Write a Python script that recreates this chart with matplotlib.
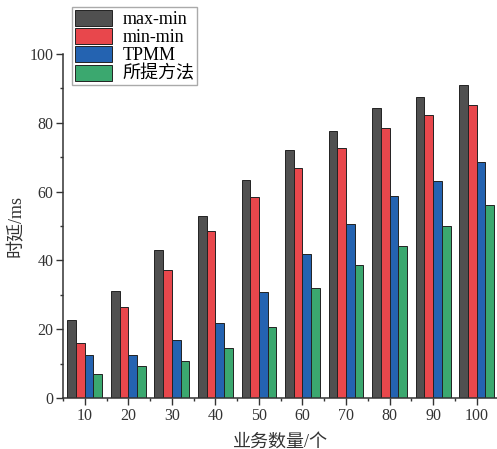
"""Grouped bar chart: 时延 vs 业务数量 for four scheduling methods."""

import matplotlib

matplotlib.use("Agg")
import matplotlib.pyplot as plt
import numpy as np
from matplotlib.ticker import MultipleLocator

plt.rcParams["font.family"] = ["Liberation Serif", "Noto Sans CJK SC"]

categories = [10, 20, 30, 40, 50, 60, 70, 80, 90, 100]
series_names = ["max-min", "min-min", "TPMM", "所提方法"]
max_min = [22.8, 31.1, 43.1, 52.8, 63.4, 72.2, 77.7, 84.3, 87.6, 91.1]
min_min = [15.9, 26.4, 37.3, 48.6, 58.3, 66.8, 72.7, 78.6, 82.2, 85.3]
tpmm = [12.4, 12.4, 16.9, 21.9, 30.9, 41.8, 50.7, 58.8, 63.0, 68.7]
proposed = [6.9, 9.2, 10.7, 14.6, 20.6, 31.9, 38.6, 44.1, 50.1, 56.2]
colors = ["#505050", "#e8474c", "#2463b1", "#3ba86f"]

fig = plt.figure(figsize=(4.97, 4.49), dpi=100)
ax = fig.add_axes([0.1268, 0.1136, 0.876, 0.766])

x = np.array(categories, dtype=float)
width = 2.0
offsets = [-3, -1, 1, 3]
for vals, name, col, off in zip([max_min, min_min, tpmm, proposed],
                                series_names, colors, offsets):
    ax.bar(x + off, vals, width=width, color=col, edgecolor="#222222",
           linewidth=0.7, label=name)

ax.set_xlim(5, 105)
ax.set_ylim(0, 100)
ax.set_xticks(categories)
ax.xaxis.set_minor_locator(MultipleLocator(10, offset=5))
ax.yaxis.set_major_locator(MultipleLocator(20))
ax.yaxis.set_minor_locator(MultipleLocator(10))
ax.tick_params(which="major", direction="out", length=5, width=1,
               labelsize=11.5, pad=2, colors="#333333")
ax.tick_params(which="minor", direction="out", length=2.5, width=1,
               colors="#333333")
for side in ("top", "right"):
    ax.spines[side].set_visible(False)
for side in ("left", "bottom"):
    ax.spines[side].set_linewidth(1.1)
    ax.spines[side].set_color("#333333")

ax.set_xlabel("业务数量/个", fontsize=13, labelpad=7, color="#333333")
ax.set_ylabel("时延/ms", fontsize=13, labelpad=3, color="#333333")

fig.legend(loc="upper left", bbox_to_anchor=(72 / 497, 1 - 7 / 449),
           borderaxespad=0, fontsize=13, handlelength=2.05,
           handleheight=1.0, labelspacing=0.0, handletextpad=0.6,
           borderpad=0.15, fancybox=False, edgecolor="#aaaaaa",
           framealpha=1)

fig.savefig("out.png", dpi=100)
